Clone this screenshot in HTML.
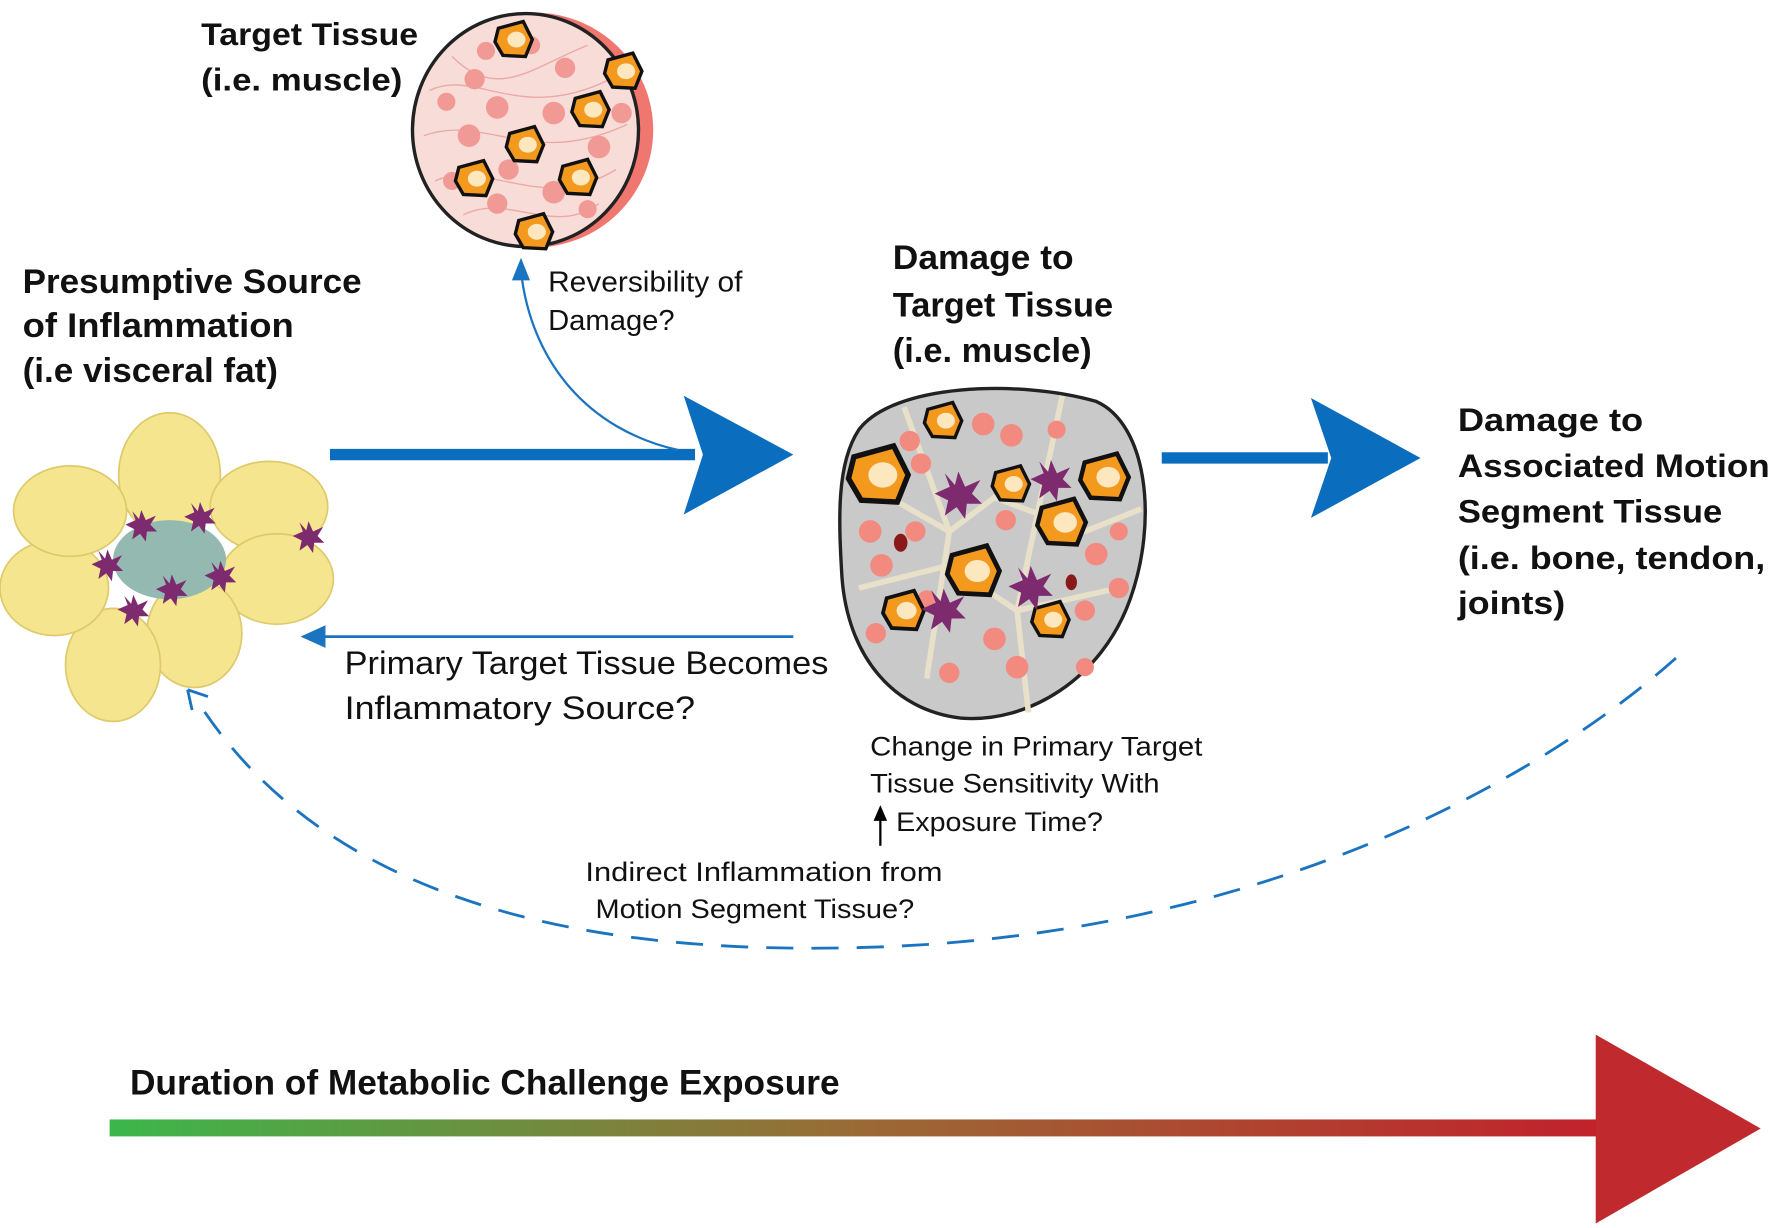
<!DOCTYPE html>
<html><head><meta charset="utf-8"><style>
html,body{margin:0;padding:0;background:#fff;}
svg{display:block;}
.b{font-family:"Liberation Sans Narrow","Liberation Sans",sans-serif;font-weight:bold;fill:#111;}
.r{font-family:"Liberation Sans Narrow","Liberation Sans",sans-serif;fill:#111;}
</style></head><body>
<svg width="1772" height="1228" viewBox="0 0 1568 1086" preserveAspectRatio="none" xmlns="http://www.w3.org/2000/svg">
<defs>
<linearGradient id="g" x1="0" x2="1"><stop offset="0" stop-color="#3cb64a"/><stop offset="0.5" stop-color="#9a6a35"/><stop offset="1" stop-color="#c2202c"/></linearGradient>
<g id="star"><polygon points="0,-14 4,-5 13,-9 8,-1 14,5 5,5 4,14 -1,7 -8,12 -6,3 -14,-1 -5,-5 -8,-13 -2,-6" fill="#7d2a6e"/></g>
<g id="or"><path d="M-14,-10 L8,-16 L16,0 L10,15 L-10,14 L-17,2 Z" fill="#f39a1e" stroke="#111" stroke-width="3"/><ellipse cx="2" cy="0" rx="8" ry="7" fill="#fde7bf"/></g>
</defs>
<rect width="1568" height="1086" fill="#fff"/>

<!-- top muscle -->
<ellipse cx="472" cy="115" rx="106" ry="104" fill="#f07670"/>
<ellipse cx="465" cy="115" rx="100" ry="103" fill="#f8dcd8" stroke="#222" stroke-width="3"/>
<g fill="none" stroke="#eaa9a4" stroke-width="1.2">
<path d="M380,80 C420,60 460,110 540,70"/><path d="M375,120 C430,100 470,150 555,110"/><path d="M385,160 C430,140 480,190 545,150"/><path d="M400,50 C440,90 470,60 520,40"/><path d="M410,190 C450,170 490,210 530,180"/>
</g>
<g fill="#f19a95">
<circle cx="420" cy="70" r="9"/><circle cx="440" cy="95" r="10"/><circle cx="500" cy="60" r="9"/><circle cx="490" cy="100" r="10"/><circle cx="415" cy="120" r="10"/><circle cx="450" cy="150" r="9"/><circle cx="530" cy="130" r="10"/><circle cx="490" cy="170" r="10"/><circle cx="440" cy="180" r="9"/><circle cx="520" cy="185" r="8"/><circle cx="550" cy="100" r="9"/><circle cx="395" cy="90" r="8"/><circle cx="470" cy="40" r="8"/><circle cx="430" cy="45" r="8"/><circle cx="510" cy="150" r="7"/><circle cx="400" cy="160" r="8"/>
</g>
<use href="#or" x="455" y="35"/>
<use href="#or" x="552" y="63"/><use href="#or" x="523" y="97"/><use href="#or" x="465" y="128"/><use href="#or" x="420" y="158"/><use href="#or" x="512" y="157"/><use href="#or" x="473" y="205"/>

<text class="b" x="178" y="40" font-size="28" textLength="192" lengthAdjust="spacingAndGlyphs">Target Tissue</text>
<text class="b" x="178" y="80" font-size="28" textLength="178" lengthAdjust="spacingAndGlyphs">(i.e. muscle)</text>

<text class="b" x="20" y="259" font-size="30" textLength="300" lengthAdjust="spacingAndGlyphs">Presumptive Source</text>
<text class="b" x="20" y="298" font-size="30" textLength="240" lengthAdjust="spacingAndGlyphs">of Inflammation</text>
<text class="b" x="20" y="338" font-size="30" textLength="226" lengthAdjust="spacingAndGlyphs">(i.e visceral fat)</text>

<!-- fat cluster -->
<g fill="#f6e58f" stroke="#ddca6a" stroke-width="1.5">
<ellipse cx="150" cy="420" rx="45" ry="55"/>
<ellipse cx="238" cy="448" rx="52" ry="40"/>
<ellipse cx="245" cy="512" rx="50" ry="40"/>
<ellipse cx="172" cy="560" rx="42" ry="48"/>
<ellipse cx="100" cy="588" rx="42" ry="50"/>
<ellipse cx="48" cy="520" rx="48" ry="42"/>
<ellipse cx="62" cy="452" rx="50" ry="40"/>
</g>
<ellipse cx="150" cy="495" rx="50" ry="35" fill="#93b9b0"/>
<use href="#star" x="125" y="465"/><use href="#star" x="177" y="458"/><use href="#star" x="95" y="500"/><use href="#star" x="195" y="510"/><use href="#star" x="152" y="522"/><use href="#star" x="118" y="540"/><use href="#star" x="273" y="475"/>

<!-- main arrow -->
<line x1="292" y1="402" x2="615" y2="402" stroke="#0a6dbd" stroke-width="10"/>
<polygon points="605,350 702,402 605,455 622,402" fill="#0a6dbd"/>
<!-- reversibility -->
<path d="M600,398 C520,380 470,320 461,240" fill="none" stroke="#1b74c0" stroke-width="2"/>
<polygon points="461,228 453,248 469,248" fill="#1b74c0"/>
<text class="r" x="485" y="258" font-size="25" textLength="172" lengthAdjust="spacingAndGlyphs">Reversibility of</text>
<text class="r" x="485" y="292" font-size="25" textLength="112" lengthAdjust="spacingAndGlyphs">Damage?</text>

<text class="b" x="790" y="238" font-size="30" textLength="160" lengthAdjust="spacingAndGlyphs">Damage to</text>
<text class="b" x="790" y="280" font-size="30" textLength="195" lengthAdjust="spacingAndGlyphs">Target Tissue</text>
<text class="b" x="790" y="320" font-size="30" textLength="176" lengthAdjust="spacingAndGlyphs">(i.e. muscle)</text>

<!-- center tissue -->
<path d="M760,380 C790,340 900,335 970,355 C1015,375 1025,460 1000,530 C975,600 910,640 850,635 C790,628 750,580 745,510 C742,460 740,410 760,380 Z" fill="#c9c9ca" stroke="#222" stroke-width="3"/>
<g stroke="#e8e0c8" stroke-width="5" fill="none"><path d="M770,430 L840,470 L880,440 L960,470 L1010,450"/><path d="M760,520 L840,500 L900,540 L990,520"/><path d="M800,360 L840,470 L820,600"/><path d="M940,350 L900,540 L910,630"/></g>
<g fill="#f28a80">
<circle cx="870" cy="375" r="10"/><circle cx="895" cy="385" r="10"/><circle cx="805" cy="390" r="9"/><circle cx="815" cy="410" r="9"/><circle cx="770" cy="470" r="10"/><circle cx="780" cy="500" r="10"/><circle cx="810" cy="470" r="9"/><circle cx="890" cy="460" r="9"/><circle cx="970" cy="490" r="10"/><circle cx="990" cy="520" r="9"/><circle cx="960" cy="540" r="9"/><circle cx="880" cy="565" r="10"/><circle cx="900" cy="590" r="10"/><circle cx="840" cy="595" r="9"/><circle cx="775" cy="560" r="9"/><circle cx="990" cy="470" r="8"/><circle cx="935" cy="380" r="8"/><circle cx="960" cy="590" r="8"/><circle cx="820" cy="530" r="8"/>
</g>
<use href="#or" transform="translate(778,420) scale(1.6)"/>
<use href="#or" transform="translate(835,372) scale(1)"/>
<use href="#or" transform="translate(978,422) scale(1.3)"/>
<use href="#or" transform="translate(895,428) scale(1)"/>
<use href="#or" transform="translate(940,462) scale(1.3)"/>
<use href="#or" transform="translate(862,505) scale(1.4)"/>
<use href="#or" transform="translate(800,540) scale(1.1)"/>
<use href="#or" transform="translate(930,548) scale(1)"/>
<use transform="translate(848,438) scale(1.5)" href="#star"/>
<use transform="translate(930,425) scale(1.3)" href="#star"/>
<use transform="translate(912,520) scale(1.4)" href="#star"/>
<use transform="translate(835,540) scale(1.4)" href="#star"/>
<ellipse cx="797" cy="480" rx="6" ry="8" fill="#8a1a1a"/><ellipse cx="948" cy="515" rx="5" ry="7" fill="#8a1a1a"/>

<!-- right arrow -->
<line x1="1028" y1="405" x2="1175" y2="405" stroke="#0a6dbd" stroke-width="10"/>
<polygon points="1160,352 1257,405 1160,458 1178,405" fill="#0a6dbd"/>

<text class="b" x="1290" y="381" font-size="29" textLength="164" lengthAdjust="spacingAndGlyphs">Damage to</text>
<text class="b" x="1290" y="422" font-size="29" textLength="276" lengthAdjust="spacingAndGlyphs">Associated Motion</text>
<text class="b" x="1290" y="462" font-size="29" textLength="234" lengthAdjust="spacingAndGlyphs">Segment Tissue</text>
<text class="b" x="1290" y="503" font-size="29" textLength="272" lengthAdjust="spacingAndGlyphs">(i.e. bone, tendon,</text>
<text class="b" x="1290" y="543" font-size="29" textLength="95" lengthAdjust="spacingAndGlyphs">joints)</text>

<!-- left thin arrow -->
<line x1="702" y1="563" x2="282" y2="563" stroke="#1b74c0" stroke-width="2.5"/>
<polygon points="266,563 288,553 288,573" fill="#1b74c0"/>
<text class="r" x="305" y="596" font-size="29" textLength="428" lengthAdjust="spacingAndGlyphs">Primary Target Tissue Becomes</text>
<text class="r" x="305" y="636" font-size="29" textLength="310" lengthAdjust="spacingAndGlyphs">Inflammatory Source?</text>

<text class="r" x="770" y="668" font-size="24" textLength="294" lengthAdjust="spacingAndGlyphs">Change in Primary Target</text>
<text class="r" x="770" y="701" font-size="24" textLength="256" lengthAdjust="spacingAndGlyphs">Tissue Sensitivity With</text>
<text class="r" x="793" y="735" font-size="24" textLength="183" lengthAdjust="spacingAndGlyphs">Exposure Time?</text>
<line x1="779" y1="748" x2="779" y2="722" stroke="#000" stroke-width="2"/>
<polygon points="779,712 773,726 785,726" fill="#000"/>

<text class="r" x="518" y="779" font-size="24" textLength="316" lengthAdjust="spacingAndGlyphs">Indirect Inflammation from</text>
<text class="r" x="527" y="812" font-size="24" textLength="282" lengthAdjust="spacingAndGlyphs">Motion Segment Tissue?</text>

<!-- dashed curve -->
<path d="M1483,582 C1350,700 1100,830 760,838 C500,845 290,790 180,628" fill="none" stroke="#1b74c0" stroke-width="2.5" stroke-dasharray="24,16"/>
<path d="M166,610 L170,628 M166,610 L184,616" stroke="#1b74c0" stroke-width="2.5" fill="none"/>

<!-- bottom arrow -->
<text class="b" x="115" y="968" font-size="31" textLength="628" lengthAdjust="spacingAndGlyphs">Duration of Metabolic Challenge Exposure</text>
<rect x="97" y="990" width="1330" height="15" fill="url(#g)"/>
<polygon points="1412,915 1558,998 1412,1082" fill="#c02a2e"/>
</svg>
</body></html>
